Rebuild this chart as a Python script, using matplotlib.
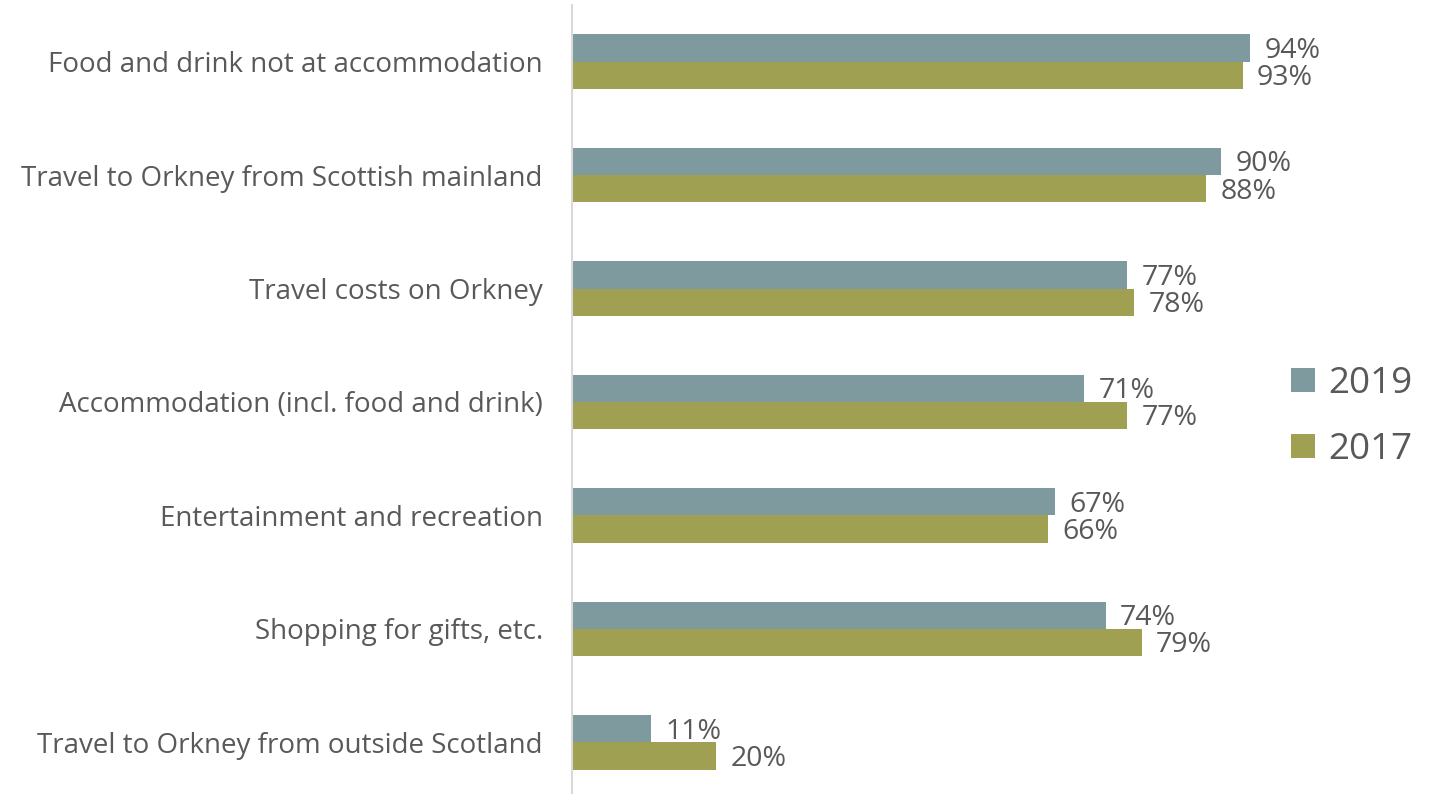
import matplotlib.pyplot as plt
import numpy as np

categories = [
    "Food and drink not at accommodation",
    "Travel to Orkney from Scottish mainland",
    "Travel costs on Orkney",
    "Accommodation (incl. food and drink)",
    "Entertainment and recreation",
    "Shopping for gifts, etc.",
    "Travel to Orkney from outside Scotland",
]
values_2019 = [94, 90, 77, 71, 67, 74, 11]
values_2017 = [93, 88, 78, 77, 66, 79, 20]
series_labels = ["2019", "2017"]

color_2019 = "#7F9A9E"
color_2017 = "#A0A052"
text_color = "#595959"

plt.rcParams["font.family"] = ["Open Sans", "DejaVu Sans"]

fig = plt.figure(figsize=(14.36, 7.94), dpi=100)
ax = fig.add_axes([572 / 1436, -5 / 794, 721 / 1436, 794 / 794])

y = np.arange(len(categories))
h = 0.24
b1 = ax.barh(y - h / 2, values_2019, height=h, color=color_2019, label=series_labels[0])
b2 = ax.barh(y + h / 2, values_2017, height=h, color=color_2017, label=series_labels[1])

# value labels, nudged a little below bar centre like the original
for bars, vals in ((b1, values_2019), (b2, values_2017)):
    for bar, v in zip(bars, vals):
        ax.text(v + 2.0, bar.get_y() + bar.get_height() / 2 + 0.025, f"{v}%",
                va="center", ha="left", fontsize=20.5, color=text_color)

ax.set_xlim(0, 100)
ax.set_ylim(len(categories) - 0.5, -0.5)
ax.set_yticks(y)
ax.set_yticklabels(categories, fontsize=20, color=text_color)
ax.tick_params(axis="y", length=0, pad=21)
ax.set_xticks([])
for s in ("top", "right", "bottom"):
    ax.spines[s].set_visible(False)
ax.spines["left"].set_color("#D9D9D9")
ax.spines["left"].set_linewidth(1.5)

leg = fig.legend(loc="center left", bbox_to_anchor=(1258 / 1436, 1 - 417 / 794),
                 frameon=False, fontsize=26.5, handlelength=0.65, handleheight=0.65,
                 handletextpad=0.35, labelspacing=0.82, labelcolor=text_color)

fig.savefig("out.png", dpi=100)
